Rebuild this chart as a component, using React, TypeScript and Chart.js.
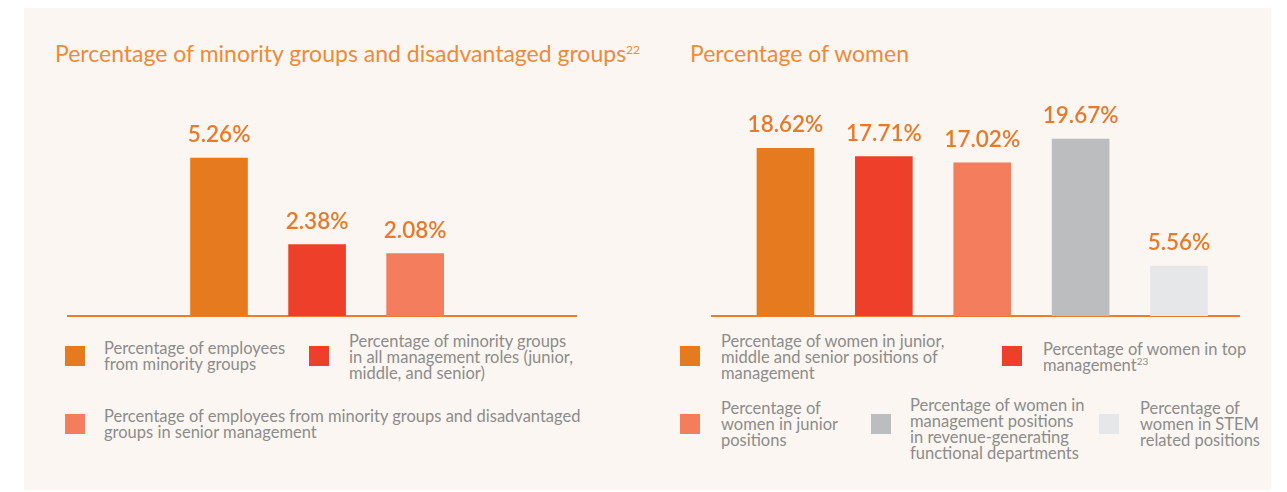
import React, { useEffect, useRef } from "react";
import { Chart, registerables } from "chart.js";

Chart.register(...registerables);

const FONT = "Lato, 'Open Sans', sans-serif";

// ---------- Left chart: minority groups ----------
const minorityTitle = "Percentage of minority groups and disadvantaged groups";
const minorityTitleNote = "22";
const minorityLegendLines = [
  ["Percentage of employees", "from minority groups"],
  ["Percentage of minority groups", "in all management roles (junior,", "middle, and senior)"],
  ["Percentage of employees from minority groups and disadvantaged", "groups in senior management"],
];
const minorityCategories = minorityLegendLines.map((l) => l.join(" "));
const minorityNotes = ["", "", ""];
const minorityValues = [5.26, 2.38, 2.08];
const minorityColors = ["#E67A1F", "#EE3F2B", "#F47D5D"];
const minorityAxisMax = 6;

// ---------- Right chart: women ----------
const womenTitle = "Percentage of women";
const womenLegendLines = [
  ["Percentage of women in junior,", "middle and senior positions of", "management"],
  ["Percentage of women in top", "management"],
  ["Percentage of", "women in junior", "positions"],
  ["Percentage of women in", "management positions", "in revenue-generating", "functional departments"],
  ["Percentage of", "women in STEM", "related positions"],
];
const womenCategories = womenLegendLines.map((l) => l.join(" "));
const womenNotes = ["", "23", "", "", ""];
const womenValues = [18.62, 17.71, 17.02, 19.67, 5.56];
const womenColors = ["#E67A1F", "#EE3F2B", "#F47D5D", "#BCBDBF", "#E6E7E9"];
const womenAxisMax = 20;

// ---------- layout (styles only) ----------
const TITLE_COLOR = "#EE8A3A";
const LABEL_COLOR = "#E8792A";
const AXIS_COLOR = "#EC7B2C";
const LEGEND_COLOR = "#8C8C8C";
const BG = "#FBF6F1";

const minorityLegendPos = [
  { sx: 65, sy: 346, tx: 104, ty: 340 },
  { sx: 309, sy: 346, tx: 349, ty: 333 },
  { sx: 65, sy: 414, tx: 104, ty: 408 },
];
const womenLegendPos = [
  { sx: 680, sy: 346, tx: 721, ty: 333 },
  { sx: 1002, sy: 346, tx: 1043, ty: 341 },
  { sx: 680, sy: 414, tx: 721, ty: 400 },
  { sx: 871, sy: 414, tx: 910, ty: 397 },
  { sx: 1099, sy: 414, tx: 1140, ty: 400 },
];

const valueLabelPlugin = {
  id: "valueLabels",
  afterDatasetsDraw(chart: any) {
    const ctx = chart.ctx;
    const meta = chart.getDatasetMeta(0);
    const ds = chart.data.datasets[0];
    ctx.save();
    ctx.font = `600 22.5px ${FONT}`;
    ctx.fillStyle = LABEL_COLOR;
    ctx.textAlign = "center";
    ctx.textBaseline = "alphabetic";
    meta.data.forEach((bar: any, i: number) => {
      const v = ds.data[i].y as number;
      ctx.fillText(v.toFixed(2) + "%", bar.x, bar.y - 16);
    });
    ctx.restore();
  },
};

type BarProps = {
  categories: string[];
  values: number[];
  colors: string[];
  yMax: number;
  xMin: number;
  xMax: number;
  left: number;
  top: number;
  width: number;
  height: number;
};

function BarChart(p: BarProps) {
  const ref = useRef<HTMLCanvasElement | null>(null);
  useEffect(() => {
    if (!ref.current) return;
    const chart = new Chart(ref.current, {
      type: "bar",
      data: {
        labels: p.categories,
        datasets: [
          {
            data: p.values.map((v, i) => ({ x: i, y: v })) as any,
            backgroundColor: p.colors,
            borderWidth: 0,
            barThickness: 57,
          },
        ],
      },
      options: {
        responsive: false,
        maintainAspectRatio: false,
        animation: false,
        layout: { padding: { top: 36, bottom: 4, left: 0, right: 0 } },
        plugins: { legend: { display: false }, tooltip: { enabled: false } },
        scales: {
          x: {
            type: "linear",
            min: p.xMin,
            max: p.xMax,
            offset: false,
            grid: { display: false, drawTicks: false },
            ticks: { display: false },
            border: { display: true, color: AXIS_COLOR, width: 2 },
          },
          y: { display: false, min: 0, max: p.yMax },
        },
      },
      plugins: [valueLabelPlugin],
    });
    return () => chart.destroy();
  }, []);
  return (
    <canvas
      ref={ref}
      width={p.width}
      height={p.height}
      style={{ position: "absolute", left: p.left, top: p.top, width: p.width, height: p.height }}
    />
  );
}

function Legend({
  lines,
  notes,
  colors,
  pos,
}: {
  lines: string[][];
  notes: string[];
  colors: string[];
  pos: { sx: number; sy: number; tx: number; ty: number }[];
}) {
  return (
    <>
      {lines.map((ls, i) => (
        <React.Fragment key={i}>
          <div
            style={{
              position: "absolute",
              left: pos[i].sx,
              top: pos[i].sy,
              width: 20,
              height: 20,
              background: colors[i],
            }}
          />
          <div
            style={{
              position: "absolute",
              left: pos[i].tx,
              top: pos[i].ty,
              fontFamily: FONT,
              fontSize: 16.5,
              lineHeight: "16px",
              color: LEGEND_COLOR,
              whiteSpace: "nowrap",
            }}
          >
            {ls.map((t, j) => (
              <div key={j}>
                {t}
                {j === ls.length - 1 && notes[i] ? (
                  <span style={{ fontSize: 10, position: "relative", top: -6 }}>{notes[i]}</span>
                ) : null}
              </div>
            ))}
          </div>
        </React.Fragment>
      ))}
    </>
  );
}

const titleStyle: React.CSSProperties = {
  position: "absolute",
  top: 42,
  fontFamily: FONT,
  fontSize: 23,
  lineHeight: "22px",
  color: TITLE_COLOR,
  whiteSpace: "nowrap",
};

export default function App() {
  return (
    <div style={{ position: "absolute", left: 0, top: 0, width: 1287, height: 492, background: "#FFFFFF", overflow: "hidden" }}>
      <div style={{ position: "absolute", left: 24, top: 8, width: 1247, height: 482, background: BG }} />
      <div style={{ ...titleStyle, left: 55 }}>
        {minorityTitle}
        <span style={{ fontSize: 12, position: "relative", top: -8 }}>{minorityTitleNote}</span>
      </div>
      <div style={{ ...titleStyle, left: 690 }}>{womenTitle}</div>
      <BarChart
        categories={minorityCategories}
        values={minorityValues}
        colors={minorityColors}
        yMax={minorityAxisMax}
        xMin={-1.55}
        xMax={3.65}
        left={67}
        top={100}
        width={510}
        height={220}
      />
      <BarChart
        categories={womenCategories}
        values={womenValues}
        colors={womenColors}
        yMax={womenAxisMax}
        xMin={-0.757}
        xMax={4.62}
        left={711}
        top={100}
        width={529}
        height={220}
      />
      <Legend lines={minorityLegendLines} notes={minorityNotes} colors={minorityColors} pos={minorityLegendPos} />
      <Legend lines={womenLegendLines} notes={womenNotes} colors={womenColors} pos={womenLegendPos} />
    </div>
  );
}
